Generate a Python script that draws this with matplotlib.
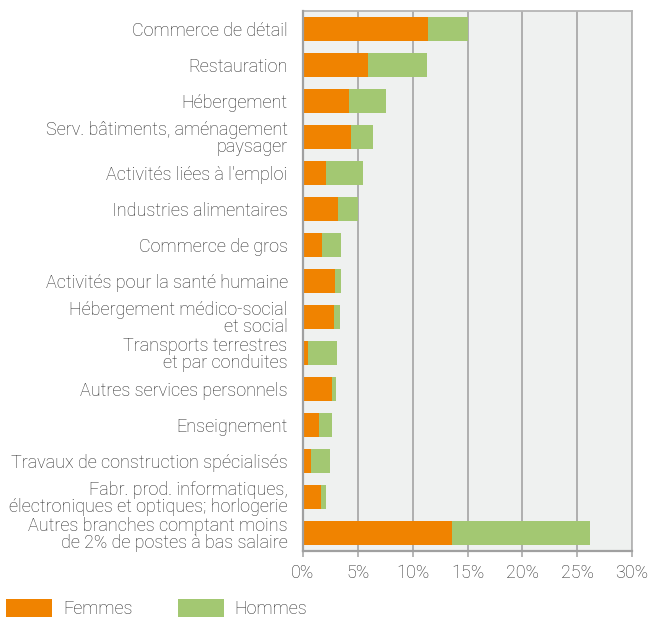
import matplotlib.pyplot as plt
import numpy as np

plt.rcParams["font.family"] = ["Roboto", "DejaVu Sans"]
plt.rcParams["font.weight"] = "light"

# -- données (part des postes à bas salaire, en %)
branches = [
    "Commerce de détail",
    "Restauration",
    "Hébergement",
    "Serv. bâtiments, aménagement\npaysager",
    "Activités liées à l'emploi",
    "Industries alimentaires",
    "Commerce de gros",
    "Activités pour la santé humaine",
    "Hébergement médico-social\net social",
    "Transports terrestres\net par conduites",
    "Autres services personnels",
    "Enseignement",
    "Travaux de construction spécialisés",
    "Fabr. prod. informatiques,\nélectroniques et optiques; horlogerie",
    "Autres branches comptant moins\nde 2% de postes à bas salaire",
]
femmes = [11.4, 5.9, 4.2, 4.4, 2.1, 3.2, 1.7, 2.9, 2.8, 0.5, 2.6, 1.5, 0.7, 1.6, 13.6]
hommes = [3.6, 5.4, 3.4, 2.0, 3.4, 1.8, 1.8, 0.6, 0.6, 2.6, 0.4, 1.1, 1.8, 0.5, 12.6]

ORANGE = "#f08300"
VERT = "#a3c872"
TXT = "#2b2b2b"
FS = 13

fig = plt.figure(figsize=(6.5, 6.17), dpi=100)
ax = fig.add_axes([303 / 650, 1 - 551 / 617, 329 / 650, 540 / 617])
ax.set_facecolor("#eff1f0")

y = np.arange(len(branches))
b1 = ax.barh(y, femmes, height=0.68, color=ORANGE, label="Femmes", zorder=3)
b2 = ax.barh(y, hommes, left=femmes, height=0.68, color=VERT, label="Hommes", zorder=3)

ax.set_xlim(0, 30)
ax.set_ylim(len(branches) - 0.5, -0.5)
ax.set_xticks(range(0, 31, 5))
ax.set_xticklabels([f"{v}%" for v in range(0, 31, 5)])
ax.set_yticks(y)
ax.set_yticklabels(branches, fontsize=FS, color=TXT, linespacing=0.9)
ax.tick_params(axis="y", length=0, pad=11)
ax.tick_params(axis="x", length=4, width=1.2, color="#aaaaaa", labelsize=FS,
               labelcolor=TXT, pad=5)

ax.grid(axis="x", color="#aaaaaa", linewidth=1.3, zorder=1)
for side in ("top", "right"):
    ax.spines[side].set_color("#b5b5b5")
    ax.spines[side].set_linewidth(1.3)
for side in ("left", "bottom"):
    ax.spines[side].set_color("#a0a0a0")
    ax.spines[side].set_linewidth(1.6)
    ax.spines[side].set_zorder(4)

fig.legend(
    handles=[b1, b2],
    loc="lower left",
    bbox_to_anchor=(6 / 650, -1 / 617),
    ncol=2,
    frameon=False,
    fontsize=FS,
    labelcolor=TXT,
    handlelength=2.55,
    handleheight=1.2,
    handletextpad=0.6,
    columnspacing=2.5,
    borderpad=0,
    borderaxespad=0,
)

fig.savefig("out.png", dpi=100)
